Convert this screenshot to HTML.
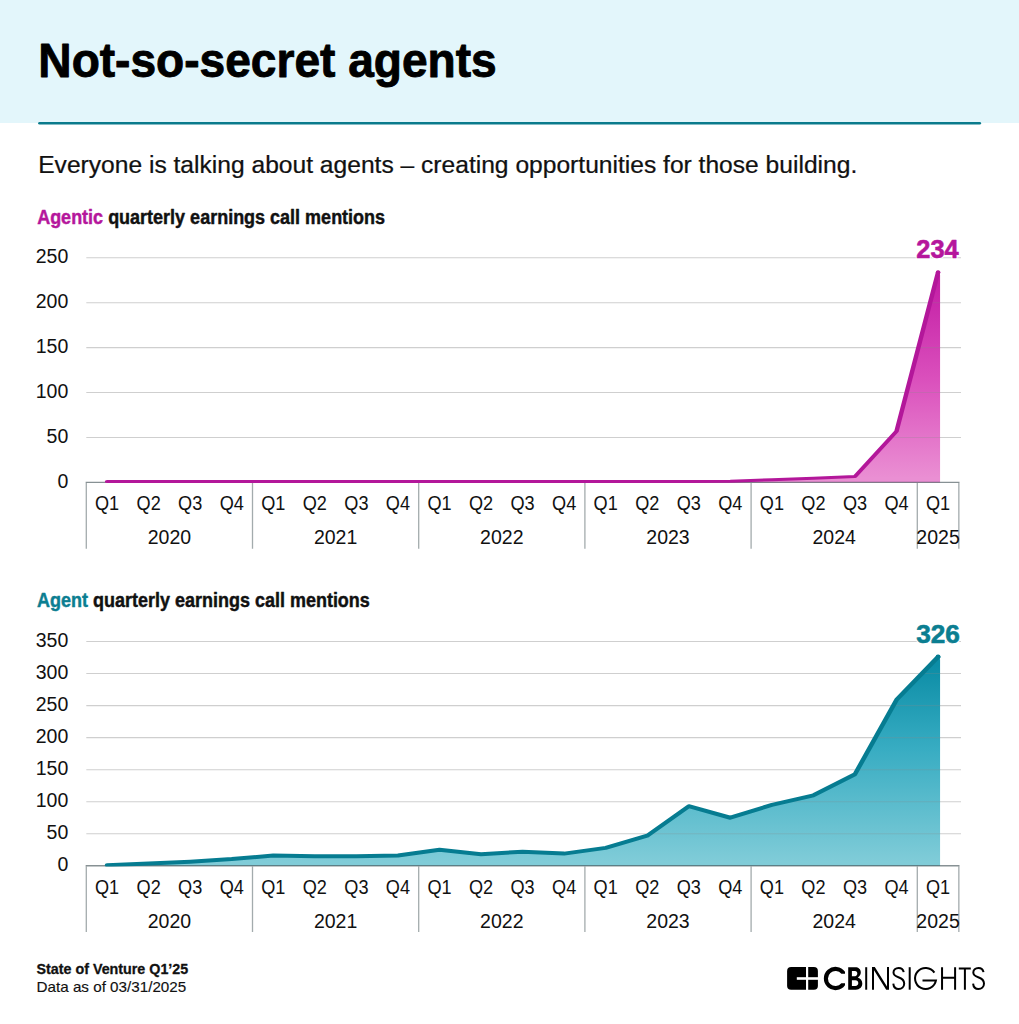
<!DOCTYPE html>
<html><head><meta charset="utf-8"><style>
html,body{margin:0;padding:0;background:#fff;}
body{width:1019px;height:1024px;overflow:hidden;}
svg{display:block;font-family:"Liberation Sans", sans-serif;}
</style></head><body>
<svg width="1019" height="1024" viewBox="0 0 1019 1024">
<rect x="0" y="0" width="1019" height="123" fill="#E3F6FB"/>
<line x1="39.5" y1="123.2" x2="979.8" y2="123.2" stroke="#0A7B8C" stroke-width="2.6" stroke-linecap="round"/>
<text transform="translate(38.35,76.6) scale(0.9504,1)" font-size="48.5" font-weight="bold" fill="#000" stroke="#000" stroke-width="0.9" stroke-linejoin="round" >Not-so-secret agents</text>
<text transform="translate(38.20,172.7) scale(1.0251,1)" font-size="24" font-weight="normal" fill="#111" stroke="#111" stroke-width="0.25" stroke-linejoin="round" >Everyone is talking about agents – creating opportunities for those building.</text>
<text transform="translate(37.14,223.6) scale(0.9097,1)" font-size="19.8" font-weight="bold" fill="#111" stroke="#111" stroke-width="0.45" stroke-linejoin="round" ><tspan fill="#B5169C" stroke="#B5169C">Agentic</tspan> quarterly earnings call mentions</text>
<text x="68.3" y="487.70" text-anchor="end" font-size="19.5" fill="#111">0</text>
<text x="68.3" y="442.78" text-anchor="end" font-size="19.5" fill="#111">50</text>
<text x="68.3" y="397.86" text-anchor="end" font-size="19.5" fill="#111">100</text>
<text x="68.3" y="352.94" text-anchor="end" font-size="19.5" fill="#111">150</text>
<text x="68.3" y="308.02" text-anchor="end" font-size="19.5" fill="#111">200</text>
<text x="68.3" y="263.10" text-anchor="end" font-size="19.5" fill="#111">250</text>
<defs><linearGradient id="g1" x1="0" y1="282" x2="0" y2="478" gradientUnits="userSpaceOnUse"><stop offset="0" stop-color="#C41FA6"/><stop offset="0.49" stop-color="#DA4FBC"/><stop offset="1" stop-color="#EA8FD3"/></linearGradient></defs>
<line x1="86.3" y1="437.48" x2="961" y2="437.48" stroke="#CFCFCF" stroke-width="1.1"/>
<line x1="86.3" y1="392.56" x2="961" y2="392.56" stroke="#CFCFCF" stroke-width="1.1"/>
<line x1="86.3" y1="347.64" x2="961" y2="347.64" stroke="#CFCFCF" stroke-width="1.1"/>
<line x1="86.3" y1="302.72" x2="961" y2="302.72" stroke="#CFCFCF" stroke-width="1.1"/>
<line x1="86.3" y1="257.80" x2="961" y2="257.80" stroke="#CFCFCF" stroke-width="1.1"/>
<clipPath id="cpg1"><path d="M107.07,482.4 L107.07,481.50 L148.62,481.50 L190.18,481.50 L231.72,481.50 L273.27,481.50 L314.82,481.50 L356.38,481.50 L397.93,481.50 L439.47,481.50 L481.02,481.50 L522.57,481.50 L564.12,481.50 L605.67,481.50 L647.22,481.50 L688.77,481.50 L730.32,481.23 L771.87,479.70 L813.42,478.36 L854.97,476.56 L896.52,431.19 L938.07,272.17 L940.07,274.77 L940.07,482.4 Z"/></clipPath>
<path d="M107.07,482.4 L107.07,481.50 L148.62,481.50 L190.18,481.50 L231.72,481.50 L273.27,481.50 L314.82,481.50 L356.38,481.50 L397.93,481.50 L439.47,481.50 L481.02,481.50 L522.57,481.50 L564.12,481.50 L605.67,481.50 L647.22,481.50 L688.77,481.50 L730.32,481.23 L771.87,479.70 L813.42,478.36 L854.97,476.56 L896.52,431.19 L938.07,272.17 L940.07,274.77 L940.07,482.4 Z" fill="url(#g1)"/>
<line x1="86.3" y1="437.48" x2="961" y2="437.48" stroke="#888" stroke-opacity="0.25" stroke-width="1.1" clip-path="url(#cpg1)"/>
<line x1="86.3" y1="392.56" x2="961" y2="392.56" stroke="#888" stroke-opacity="0.25" stroke-width="1.1" clip-path="url(#cpg1)"/>
<line x1="86.3" y1="347.64" x2="961" y2="347.64" stroke="#888" stroke-opacity="0.25" stroke-width="1.1" clip-path="url(#cpg1)"/>
<line x1="86.3" y1="302.72" x2="961" y2="302.72" stroke="#888" stroke-opacity="0.25" stroke-width="1.1" clip-path="url(#cpg1)"/>
<line x1="86.3" y1="257.80" x2="961" y2="257.80" stroke="#888" stroke-opacity="0.25" stroke-width="1.1" clip-path="url(#cpg1)"/>
<path d="M85.64999999999999,482.4 H959.50" stroke="#24363C" stroke-opacity="0.55" stroke-width="1.4" fill="none"/>
<path d=" M86.30,483.10 V548.70 M252.50,483.10 V548.70 M418.70,483.10 V548.70 M584.90,483.10 V548.70 M751.10,483.10 V548.70 M917.30,483.10 V548.70 M958.85,483.10 V548.70" stroke="#24363C" stroke-opacity="0.42" stroke-width="1.3" fill="none"/>
<clipPath id="lcg1"><rect x="0" y="0" width="1019" height="483.00"/></clipPath>
<g clip-path="url(#lcg1)"><path transform="scale(1.5,1)" d="M71.383,481.50 L99.083,481.50 L126.783,481.50 L154.483,481.50 L182.183,481.50 L209.883,481.50 L237.583,481.50 L265.283,481.50 L292.983,481.50 L320.683,481.50 L348.383,481.50 L376.083,481.50 L403.783,481.50 L431.483,481.50 L459.183,481.50 L486.883,481.23 L514.583,479.70 L542.283,478.36 L569.983,476.56 L597.683,431.19 L625.383,272.17" fill="none" stroke="#B3179A" stroke-width="3.0" stroke-linejoin="round" stroke-linecap="round"/></g>
<circle cx="938.07" cy="272.47" r="2.20" fill="#B3179A"/>
<text transform="translate(107.07,510.00) scale(0.93,1)" text-anchor="middle" font-size="19.5" fill="#111">Q1</text>
<text transform="translate(148.62,510.00) scale(0.93,1)" text-anchor="middle" font-size="19.5" fill="#111">Q2</text>
<text transform="translate(190.18,510.00) scale(0.93,1)" text-anchor="middle" font-size="19.5" fill="#111">Q3</text>
<text transform="translate(231.72,510.00) scale(0.93,1)" text-anchor="middle" font-size="19.5" fill="#111">Q4</text>
<text transform="translate(273.27,510.00) scale(0.93,1)" text-anchor="middle" font-size="19.5" fill="#111">Q1</text>
<text transform="translate(314.82,510.00) scale(0.93,1)" text-anchor="middle" font-size="19.5" fill="#111">Q2</text>
<text transform="translate(356.38,510.00) scale(0.93,1)" text-anchor="middle" font-size="19.5" fill="#111">Q3</text>
<text transform="translate(397.93,510.00) scale(0.93,1)" text-anchor="middle" font-size="19.5" fill="#111">Q4</text>
<text transform="translate(439.47,510.00) scale(0.93,1)" text-anchor="middle" font-size="19.5" fill="#111">Q1</text>
<text transform="translate(481.02,510.00) scale(0.93,1)" text-anchor="middle" font-size="19.5" fill="#111">Q2</text>
<text transform="translate(522.57,510.00) scale(0.93,1)" text-anchor="middle" font-size="19.5" fill="#111">Q3</text>
<text transform="translate(564.12,510.00) scale(0.93,1)" text-anchor="middle" font-size="19.5" fill="#111">Q4</text>
<text transform="translate(605.67,510.00) scale(0.93,1)" text-anchor="middle" font-size="19.5" fill="#111">Q1</text>
<text transform="translate(647.22,510.00) scale(0.93,1)" text-anchor="middle" font-size="19.5" fill="#111">Q2</text>
<text transform="translate(688.77,510.00) scale(0.93,1)" text-anchor="middle" font-size="19.5" fill="#111">Q3</text>
<text transform="translate(730.32,510.00) scale(0.93,1)" text-anchor="middle" font-size="19.5" fill="#111">Q4</text>
<text transform="translate(771.87,510.00) scale(0.93,1)" text-anchor="middle" font-size="19.5" fill="#111">Q1</text>
<text transform="translate(813.42,510.00) scale(0.93,1)" text-anchor="middle" font-size="19.5" fill="#111">Q2</text>
<text transform="translate(854.97,510.00) scale(0.93,1)" text-anchor="middle" font-size="19.5" fill="#111">Q3</text>
<text transform="translate(896.52,510.00) scale(0.93,1)" text-anchor="middle" font-size="19.5" fill="#111">Q4</text>
<text transform="translate(938.07,510.00) scale(0.93,1)" text-anchor="middle" font-size="19.5" fill="#111">Q1</text>
<text x="169.40" y="543.60" text-anchor="middle" font-size="19.5" fill="#111">2020</text>
<text x="335.60" y="543.60" text-anchor="middle" font-size="19.5" fill="#111">2021</text>
<text x="501.80" y="543.60" text-anchor="middle" font-size="19.5" fill="#111">2022</text>
<text x="668.00" y="543.60" text-anchor="middle" font-size="19.5" fill="#111">2023</text>
<text x="834.20" y="543.60" text-anchor="middle" font-size="19.5" fill="#111">2024</text>
<text x="938.07" y="543.60" text-anchor="middle" font-size="19.5" fill="#111">2025</text>
<text transform="translate(916.29,258.2) scale(0.9767,1)" font-size="26" font-weight="bold" fill="#fff" stroke="#fff" stroke-width="2.6" stroke-linejoin="round">234</text>
<text transform="translate(916.29,258.2) scale(0.9767,1)" font-size="26" font-weight="bold" fill="#B5169C" stroke="#B5169C" stroke-width="0.6" stroke-linejoin="round" >234</text>
<text transform="translate(37.07,606.8) scale(0.9089,1)" font-size="19.8" font-weight="bold" fill="#111" stroke="#111" stroke-width="0.45" stroke-linejoin="round" ><tspan fill="#0B7E91" stroke="#0B7E91">Agent</tspan> quarterly earnings call mentions</text>
<text x="68.3" y="871.10" text-anchor="end" font-size="19.5" fill="#111">0</text>
<text x="68.3" y="839.06" text-anchor="end" font-size="19.5" fill="#111">50</text>
<text x="68.3" y="807.02" text-anchor="end" font-size="19.5" fill="#111">100</text>
<text x="68.3" y="774.98" text-anchor="end" font-size="19.5" fill="#111">150</text>
<text x="68.3" y="742.94" text-anchor="end" font-size="19.5" fill="#111">200</text>
<text x="68.3" y="710.90" text-anchor="end" font-size="19.5" fill="#111">250</text>
<text x="68.3" y="678.86" text-anchor="end" font-size="19.5" fill="#111">300</text>
<text x="68.3" y="646.82" text-anchor="end" font-size="19.5" fill="#111">350</text>
<defs><linearGradient id="g2" x1="0" y1="665" x2="0" y2="862" gradientUnits="userSpaceOnUse"><stop offset="0" stop-color="#0C8DA6"/><stop offset="0.42" stop-color="#37ACC2"/><stop offset="1" stop-color="#80CCD8"/></linearGradient></defs>
<line x1="86.3" y1="833.76" x2="961" y2="833.76" stroke="#CFCFCF" stroke-width="1.1"/>
<line x1="86.3" y1="801.72" x2="961" y2="801.72" stroke="#CFCFCF" stroke-width="1.1"/>
<line x1="86.3" y1="769.68" x2="961" y2="769.68" stroke="#CFCFCF" stroke-width="1.1"/>
<line x1="86.3" y1="737.64" x2="961" y2="737.64" stroke="#CFCFCF" stroke-width="1.1"/>
<line x1="86.3" y1="705.60" x2="961" y2="705.60" stroke="#CFCFCF" stroke-width="1.1"/>
<line x1="86.3" y1="673.56" x2="961" y2="673.56" stroke="#CFCFCF" stroke-width="1.1"/>
<line x1="86.3" y1="641.52" x2="961" y2="641.52" stroke="#CFCFCF" stroke-width="1.1"/>
<clipPath id="cpg2"><path d="M107.07,865.8 L107.07,865.16 L148.62,863.56 L190.18,861.63 L231.72,859.07 L273.27,855.55 L314.82,856.19 L356.38,856.19 L397.93,855.55 L439.47,849.78 L481.02,854.27 L522.57,851.70 L564.12,853.62 L605.67,847.86 L647.22,835.68 L688.77,806.21 L730.32,817.74 L771.87,804.92 L813.42,795.31 L854.97,774.17 L896.52,699.83 L938.07,656.90 L940.07,659.50 L940.07,865.8 Z"/></clipPath>
<path d="M107.07,865.8 L107.07,865.16 L148.62,863.56 L190.18,861.63 L231.72,859.07 L273.27,855.55 L314.82,856.19 L356.38,856.19 L397.93,855.55 L439.47,849.78 L481.02,854.27 L522.57,851.70 L564.12,853.62 L605.67,847.86 L647.22,835.68 L688.77,806.21 L730.32,817.74 L771.87,804.92 L813.42,795.31 L854.97,774.17 L896.52,699.83 L938.07,656.90 L940.07,659.50 L940.07,865.8 Z" fill="url(#g2)"/>
<line x1="86.3" y1="833.76" x2="961" y2="833.76" stroke="#888" stroke-opacity="0.25" stroke-width="1.1" clip-path="url(#cpg2)"/>
<line x1="86.3" y1="801.72" x2="961" y2="801.72" stroke="#888" stroke-opacity="0.25" stroke-width="1.1" clip-path="url(#cpg2)"/>
<line x1="86.3" y1="769.68" x2="961" y2="769.68" stroke="#888" stroke-opacity="0.25" stroke-width="1.1" clip-path="url(#cpg2)"/>
<line x1="86.3" y1="737.64" x2="961" y2="737.64" stroke="#888" stroke-opacity="0.25" stroke-width="1.1" clip-path="url(#cpg2)"/>
<line x1="86.3" y1="705.60" x2="961" y2="705.60" stroke="#888" stroke-opacity="0.25" stroke-width="1.1" clip-path="url(#cpg2)"/>
<line x1="86.3" y1="673.56" x2="961" y2="673.56" stroke="#888" stroke-opacity="0.25" stroke-width="1.1" clip-path="url(#cpg2)"/>
<line x1="86.3" y1="641.52" x2="961" y2="641.52" stroke="#888" stroke-opacity="0.25" stroke-width="1.1" clip-path="url(#cpg2)"/>
<path d="M85.64999999999999,865.8 H959.50" stroke="#24363C" stroke-opacity="0.55" stroke-width="1.4" fill="none"/>
<path d=" M86.30,866.50 V932.10 M252.50,866.50 V932.10 M418.70,866.50 V932.10 M584.90,866.50 V932.10 M751.10,866.50 V932.10 M917.30,866.50 V932.10 M958.85,866.50 V932.10" stroke="#24363C" stroke-opacity="0.42" stroke-width="1.3" fill="none"/>
<clipPath id="lcg2"><rect x="0" y="0" width="1019" height="866.40"/></clipPath>
<g clip-path="url(#lcg2)"><path transform="scale(1.15,1)" d="M93.109,865.16 L129.239,863.56 L165.370,861.63 L201.500,859.07 L237.630,855.55 L273.761,856.19 L309.891,856.19 L346.022,855.55 L382.152,849.78 L418.283,854.27 L454.413,851.70 L490.543,853.62 L526.674,847.86 L562.804,835.68 L598.935,806.21 L635.065,817.74 L671.196,804.92 L707.326,795.31 L743.457,774.17 L779.587,699.83 L815.717,656.90" fill="none" stroke="#067C91" stroke-width="4.0" stroke-linejoin="round" stroke-linecap="round"/></g>
<circle cx="938.07" cy="656.90" r="2.40" fill="#067C91"/>
<text transform="translate(107.07,893.90) scale(0.93,1)" text-anchor="middle" font-size="19.5" fill="#111">Q1</text>
<text transform="translate(148.62,893.90) scale(0.93,1)" text-anchor="middle" font-size="19.5" fill="#111">Q2</text>
<text transform="translate(190.18,893.90) scale(0.93,1)" text-anchor="middle" font-size="19.5" fill="#111">Q3</text>
<text transform="translate(231.72,893.90) scale(0.93,1)" text-anchor="middle" font-size="19.5" fill="#111">Q4</text>
<text transform="translate(273.27,893.90) scale(0.93,1)" text-anchor="middle" font-size="19.5" fill="#111">Q1</text>
<text transform="translate(314.82,893.90) scale(0.93,1)" text-anchor="middle" font-size="19.5" fill="#111">Q2</text>
<text transform="translate(356.38,893.90) scale(0.93,1)" text-anchor="middle" font-size="19.5" fill="#111">Q3</text>
<text transform="translate(397.93,893.90) scale(0.93,1)" text-anchor="middle" font-size="19.5" fill="#111">Q4</text>
<text transform="translate(439.47,893.90) scale(0.93,1)" text-anchor="middle" font-size="19.5" fill="#111">Q1</text>
<text transform="translate(481.02,893.90) scale(0.93,1)" text-anchor="middle" font-size="19.5" fill="#111">Q2</text>
<text transform="translate(522.57,893.90) scale(0.93,1)" text-anchor="middle" font-size="19.5" fill="#111">Q3</text>
<text transform="translate(564.12,893.90) scale(0.93,1)" text-anchor="middle" font-size="19.5" fill="#111">Q4</text>
<text transform="translate(605.67,893.90) scale(0.93,1)" text-anchor="middle" font-size="19.5" fill="#111">Q1</text>
<text transform="translate(647.22,893.90) scale(0.93,1)" text-anchor="middle" font-size="19.5" fill="#111">Q2</text>
<text transform="translate(688.77,893.90) scale(0.93,1)" text-anchor="middle" font-size="19.5" fill="#111">Q3</text>
<text transform="translate(730.32,893.90) scale(0.93,1)" text-anchor="middle" font-size="19.5" fill="#111">Q4</text>
<text transform="translate(771.87,893.90) scale(0.93,1)" text-anchor="middle" font-size="19.5" fill="#111">Q1</text>
<text transform="translate(813.42,893.90) scale(0.93,1)" text-anchor="middle" font-size="19.5" fill="#111">Q2</text>
<text transform="translate(854.97,893.90) scale(0.93,1)" text-anchor="middle" font-size="19.5" fill="#111">Q3</text>
<text transform="translate(896.52,893.90) scale(0.93,1)" text-anchor="middle" font-size="19.5" fill="#111">Q4</text>
<text transform="translate(938.07,893.90) scale(0.93,1)" text-anchor="middle" font-size="19.5" fill="#111">Q1</text>
<text x="169.40" y="927.50" text-anchor="middle" font-size="19.5" fill="#111">2020</text>
<text x="335.60" y="927.50" text-anchor="middle" font-size="19.5" fill="#111">2021</text>
<text x="501.80" y="927.50" text-anchor="middle" font-size="19.5" fill="#111">2022</text>
<text x="668.00" y="927.50" text-anchor="middle" font-size="19.5" fill="#111">2023</text>
<text x="834.20" y="927.50" text-anchor="middle" font-size="19.5" fill="#111">2024</text>
<text x="938.07" y="927.50" text-anchor="middle" font-size="19.5" fill="#111">2025</text>
<text transform="translate(916.16,643.1) scale(1.0070,1)" font-size="26" font-weight="bold" fill="#fff" stroke="#fff" stroke-width="2.6" stroke-linejoin="round">326</text>
<text transform="translate(916.16,643.1) scale(1.0070,1)" font-size="26" font-weight="bold" fill="#0B7E91" stroke="#0B7E91" stroke-width="0.6" stroke-linejoin="round" >326</text>
<text transform="translate(36.57,973.7) scale(0.9790,1)" font-size="14.6" font-weight="bold" fill="#111" stroke="#111" stroke-width="0.3" stroke-linejoin="round" >State of Venture Q1’25</text>
<text transform="translate(36.55,991.5) scale(1.0285,1)" font-size="14.8" font-weight="normal" fill="#111" stroke="#111" stroke-width="0.15" stroke-linejoin="round" >Data as of 03/31/2025</text>
<rect x="787.1" y="967.1" width="30.8" height="22.6" rx="4" fill="#000"/>
<rect x="806" y="966" width="2.2" height="25" fill="#fff"/>
<rect x="796.8" y="977.2" width="22" height="2.6" fill="#fff"/>
<path d="M845.0,971.76 A11.65,11.65 0 1 0 845.0,985.24 L845.0,983.3 L841.33,983.3 A7.55,7.55 0 1 1 841.41,973.8 L845.0,973.8 Z" fill="#000"/>
<path fill-rule="evenodd" fill="#000" d="M848.2,967.3 H855.2 C858.6,967.3 860.8,969.4 860.8,972.2 C860.8,974.6 859.6,976.2 857.8,977.6 C860.6,978.6 862.3,980.8 862.3,983.6 C862.3,987.2 859.6,989.7 855.8,989.7 H848.2 Z M851.9,971.1 H855 C856.5,971.1 857.3,972.2 857.3,973.6 C857.3,975.1 856.5,976.2 855,976.2 H851.9 Z M851.9,980.2 H855.4 C857.2,980.2 858.3,981.5 858.3,983.1 C858.3,984.8 857.2,986 855.4,986 H851.9 Z"/>
<g fill="none" stroke="#000" stroke-width="2.0"><path d="M866.2,967.2 V989.7"/><path d="M903.7,972.1 C903.2,969.5 901.2,967.9 898.6,967.9 C895.6,967.9 893.5,970 893.5,972.5 C893.5,975.2 895.6,976.3 898.4,977.2 C901.9,978.3 904.2,980 904.2,983.6 C904.2,986.9 901.6,989 898.7,989 C895.6,989 893.6,986.8 893.3,983.6"/><path d="M909.7,967.2 V989.7"/><path d="M934.40,972.63 A10.55,10.55 0 1 0 935.97,980.4 H922.5"/><path d="M942.05,967.2 V989.7 M955.1,967.2 V989.7 M942.05,977.8 H955.1"/><path d="M958.8,968.4 H970.8 M964.9,968.4 V989.7"/><path transform="translate(79.8,0)" d="M903.7,972.1 C903.2,969.5 901.2,967.9 898.6,967.9 C895.6,967.9 893.5,970 893.5,972.5 C893.5,975.2 895.6,976.3 898.4,977.2 C901.9,978.3 904.2,980 904.2,983.6 C904.2,986.9 901.6,989 898.7,989 C895.6,989 893.6,986.8 893.3,983.6"/></g>
<path fill="#000" d="M872,967.1 h2 v22.7 h-2 Z M887,967.1 h2 v22.7 h-2 Z M872,967.1 L874.8,967.1 L889,989.8 L886.2,989.8 Z"/>
</svg>
</body></html>
